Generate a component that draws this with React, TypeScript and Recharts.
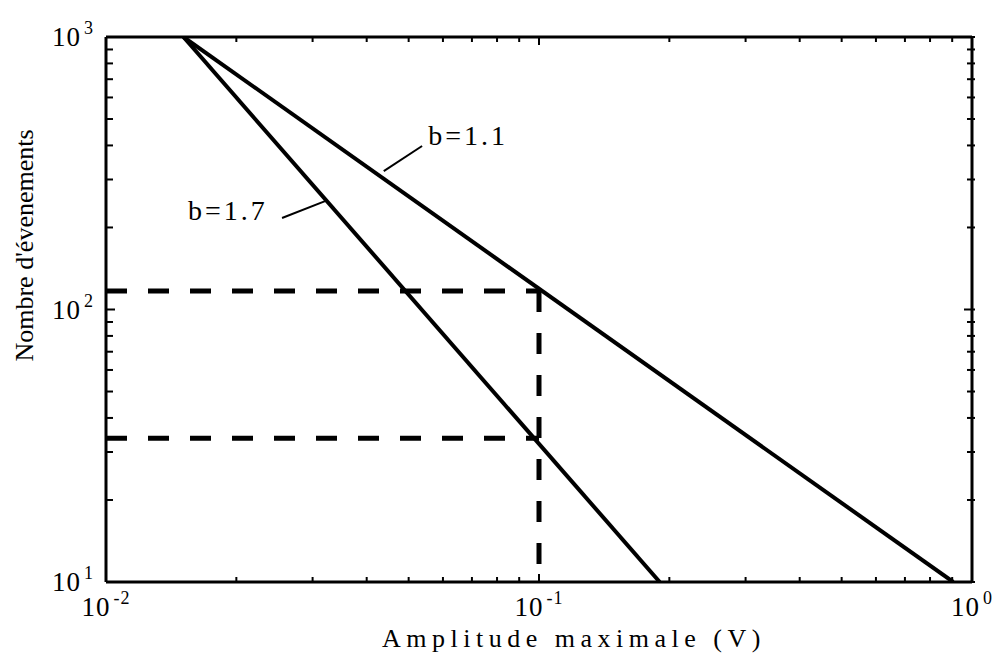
import React from "react";
import { LineChart, Line, XAxis, YAxis, ReferenceLine, ReferenceDot } from "recharts";

// log decades shown on each axis, and the minor multipliers between them
const xDecades = [-2, -1, 0];
const yDecades = [1, 2, 3];
const minorSteps = [2, 3, 4, 5, 6, 7, 8, 9];

// Gutenberg-Richter style lines
const lineB11 = [
  { x: 0.0151, y: 1000 },
  { x: 0.905, y: 10 },
];
const lineB17 = [
  { x: 0.0151, y: 1000 },
  { x: 0.19, y: 10 },
];

// dashed reading guides at 0.1 V
const guideHigh = [
  { x: 0.01, y: 117 },
  { x: 0.1, y: 117 },
];
const guideLow = [
  { x: 0.01, y: 33.7 },
  { x: 0.1, y: 33.7 },
];
const guideVertical = [
  { x: 0.1, y: 117 },
  { x: 0.1, y: 10 },
];

const annotations = [
  { text: "b=1.1", at: { x: 0.0555, y: 402 }, leader: [{ x: 0.0438, y: 322 }, { x: 0.0537, y: 398 }] },
  { text: "b=1.7", at: { x: 0.01546, y: 213 }, leader: [{ x: 0.0255, y: 216.6 }, { x: 0.03206, y: 250 }] },
];

const xTitle = "Amplitude maximale (V)";
const yTitle = "Nombre d'évenements";

const FONT = "'Liberation Serif', 'Times New Roman', serif";

const logTicks = (decades: number[]) => {
  const out: number[] = [];
  decades.forEach((d, i) => {
    const base = Math.pow(10, d);
    out.push(base);
    if (i < decades.length - 1) minorSteps.forEach((m) => out.push(+(m * base).toPrecision(6)));
  });
  return out;
};

const xTicks = logTicks(xDecades);
const yTicks = logTicks(yDecades);

const isMajor = (v: number) => Math.abs(Math.log10(v) - Math.round(Math.log10(v))) < 1e-6;

const PowLabel = ({ x, y, v, anchor }: any) => (
  <text x={x} y={y} textAnchor={anchor} fontFamily={FONT} fontSize={27} letterSpacing={1} fill="#000">
    10
    <tspan dx={3} dy={-12} fontSize={18}>
      {Math.round(Math.log10(v))}
    </tspan>
  </text>
);

const BottomTick = (props: any) => {
  const { x, y, payload } = props;
  const major = isMajor(payload.value);
  return (
    <g>
      <line x1={x} x2={x} y1={y} y2={y - (major ? 8 : 5)} stroke="#000" strokeWidth={2} />
      {major && <PowLabel x={x} y={y + 34} v={payload.value} anchor="middle" />}
    </g>
  );
};

const TopTick = (props: any) => {
  const { x, y, payload } = props;
  const major = isMajor(payload.value);
  return <line x1={x} x2={x} y1={y} y2={y + (major ? 8 : 5)} stroke="#000" strokeWidth={2} />;
};

const LeftTick = (props: any) => {
  const { x, y, payload } = props;
  const major = isMajor(payload.value);
  return (
    <g>
      <line x1={x} x2={x + (major ? 9 : 7)} y1={y} y2={y} stroke="#000" strokeWidth={2} />
      {major && <PowLabel x={x - 12} y={y + 9} v={payload.value} anchor="end" />}
    </g>
  );
};

const RightTick = (props: any) => {
  const { x, y, payload } = props;
  const major = isMajor(payload.value);
  return <line x1={x - (major ? 8 : 5)} x2={x + 3} y1={y} y2={y} stroke="#000" strokeWidth={2} />;
};

const XTitle = (props: any) => {
  const vb = props.viewBox || { x: 106, y: 582, width: 866 };
  return (
    <text x={vb.x + vb.width / 2 + 35} y={vb.y + 65} textAnchor="middle" fontFamily={FONT} fontSize={26} letterSpacing={5.5} fill="#000">
      {xTitle}
    </text>
  );
};

const YTitle = (props: any) => {
  const vb = props.viewBox || { x: 0, y: 37, width: 106, height: 545 };
  const cx = vb.x + 33;
  const cy = vb.y + vb.height / 2 - 64;
  return (
    <text x={cx} y={cy} transform={`rotate(-90 ${cx} ${cy})`} textAnchor="middle" fontFamily={FONT} fontSize={26} fill="#000">
      {yTitle}
    </text>
  );
};

const Note = (text: string) => (p: any) => (
  <text x={p.cx} y={p.cy} fontFamily={FONT} fontSize={28} letterSpacing={3} fill="#000">
    {text}
  </text>
);

const axisLine = { stroke: "#000", strokeWidth: 3 };

export default function App() {
  return (
    <div style={{ position: "absolute", left: 0, top: 0, background: "#fff" }}>
      <LineChart width={993} height={653} margin={{ top: 36, right: 20, bottom: 0, left: 0 }}>
        <XAxis
          dataKey="x"
          type="number"
          scale="log"
          domain={[0.01, 1]}
          allowDataOverflow
          ticks={xTicks}
          interval={0}
          height={71}
          tickSize={0}
          tickMargin={0}
          tickLine={false}
          axisLine={axisLine}
          tick={BottomTick}
          label={XTitle}
        />
        <XAxis
          xAxisId="top"
          orientation="top"
          dataKey="x"
          type="number"
          scale="log"
          domain={[0.01, 1]}
          allowDataOverflow
          ticks={xTicks}
          interval={0}
          height={1}
          tickSize={0}
          tickMargin={0}
          tickLine={false}
          axisLine={axisLine}
          tick={TopTick}
        />
        <YAxis
          type="number"
          scale="log"
          domain={[10, 1000]}
          allowDataOverflow
          ticks={yTicks}
          interval={0}
          width={106}
          tickSize={0}
          tickMargin={0}
          tickLine={false}
          axisLine={axisLine}
          tick={LeftTick}
          label={YTitle}
        />
        <YAxis
          yAxisId="right"
          orientation="right"
          type="number"
          scale="log"
          domain={[10, 1000]}
          allowDataOverflow
          ticks={yTicks}
          interval={0}
          width={1}
          tickSize={0}
          tickMargin={0}
          tickLine={false}
          axisLine={axisLine}
          tick={RightTick}
        />
        <Line data={guideHigh} dataKey="y" stroke="#000" strokeWidth={5} strokeDasharray="21 21" dot={false} activeDot={false} isAnimationActive={false} />
        <Line data={guideLow} dataKey="y" stroke="#000" strokeWidth={5} strokeDasharray="21 21" dot={false} activeDot={false} isAnimationActive={false} />
        <Line data={guideVertical} dataKey="y" stroke="#000" strokeWidth={5} strokeDasharray="21 21" dot={false} activeDot={false} isAnimationActive={false} />
        <Line data={lineB11} dataKey="y" stroke="#000" strokeWidth={4} dot={false} activeDot={false} isAnimationActive={false} />
        <Line data={lineB17} dataKey="y" stroke="#000" strokeWidth={4} dot={false} activeDot={false} isAnimationActive={false} />
        {annotations.map((a) => (
          <ReferenceLine key={`l-${a.text}`} segment={a.leader} stroke="#000" strokeWidth={2} />
        ))}
        {annotations.map((a) => (
          <ReferenceDot key={`t-${a.text}`} x={a.at.x} y={a.at.y} r={0} shape={Note(a.text)} />
        ))}
      </LineChart>
    </div>
  );
}
